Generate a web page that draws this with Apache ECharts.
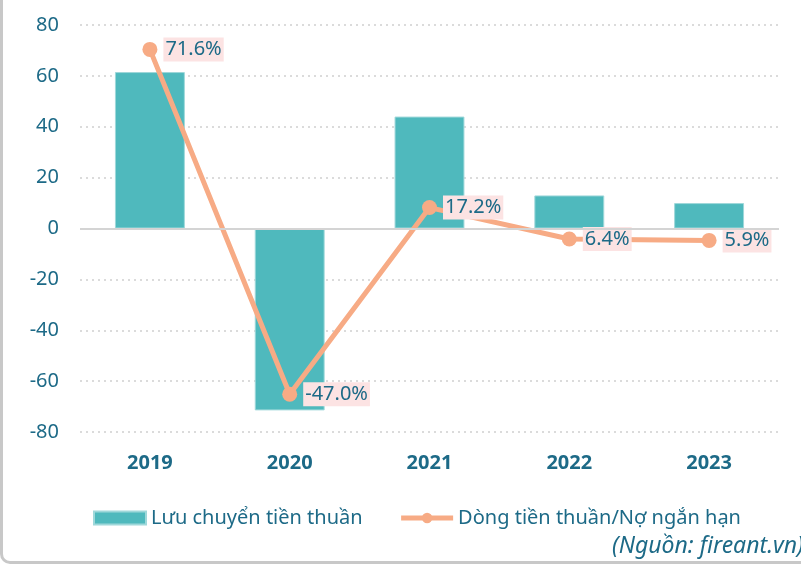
<!DOCTYPE html>
<html lang="vi">
<head>
<meta charset="UTF-8">
<title>Lưu chuyển tiền thuần</title>
<script src="https://cdn.jsdelivr.net/npm/echarts@6/dist/echarts.min.js"></script>
<style>
    html, body { margin: 0; padding: 0; background: #fff; }
    #frame {
        position: absolute; left: 0; top: -20px; width: 830px; height: 584px;
        border-left: 3px solid #c8c8c8; border-bottom: 3px solid #c8c8c8;
        border-bottom-left-radius: 10px; box-sizing: border-box;
    }
    #main { position: absolute; left: 0; top: 0; width: 801px; height: 566px; }
</style>
</head>
<body>
<div id="frame"></div>
<div id="main"></div>
<script type="text/javascript">
    // dữ liệu
    var years = ['2019', '2020', '2021', '2022', '2023'];
    var luuChuyen = [61.5, -71.5, 44, 13, 10];
    var tyLe = [71.6, -47.0, 17.2, 6.4, 5.9];

    var textColor = '#1d6a87';
    var font = 'Noto Sans';

    var myChart = echarts.init(document.getElementById('main'));
    var option = {
        animation: false,
        textStyle: { fontFamily: font },
        grid: { left: 80, right: 22, top: 25, bottom: 134 },
        legend: {
            top: 503,
            left: 88,
            itemGap: 36,
            itemWidth: 52,
            itemHeight: 13,
            textStyle: { color: textColor, fontSize: 20, fontFamily: font },
            data: [
                { name: 'Lưu chuyển tiền thuần', icon: 'rect' },
                {
                    name: 'Dòng tiền thuần/Nợ ngắn hạn',
                    lineStyle: { width: 5, color: '#f7ab85' },
                    itemStyle: { color: '#f7ab85' }
                }
            ]
        },
        xAxis: {
            type: 'category',
            data: years,
            axisLine: { show: false },
            axisTick: { show: false },
            axisLabel: { color: textColor, fontSize: 20, fontWeight: 'bold', margin: 21 }
        },
        yAxis: [
            {
                type: 'value',
                min: -80, max: 80, interval: 20,
                axisLine: { show: false },
                axisTick: { show: false },
                axisLabel: { color: textColor, fontSize: 20, margin: 21 },
                splitLine: { lineStyle: { color: '#cfcfcf', type: [2, 4], width: 1.5 } }
            },
            {
                type: 'value',
                min: -60, max: 80,
                show: false,
                splitLine: { show: false }
            }
        ],
        series: [
            {
                name: 'Lưu chuyển tiền thuần',
                type: 'bar',
                barWidth: '50%',
                data: luuChuyen,
                itemStyle: { color: '#4fb9bd', borderColor: '#9fd8da', borderWidth: 1 },
                markLine: {
                    silent: true,
                    symbol: 'none',
                    label: { show: false },
                    lineStyle: { color: '#d4d4d4', type: 'solid', width: 2 },
                    data: [{ yAxis: 0 }]
                }
            },
            {
                name: 'Dòng tiền thuần/Nợ ngắn hạn',
                type: 'line',
                yAxisIndex: 1,
                data: tyLe,
                symbol: 'circle',
                symbolSize: 15,
                color: '#f7ab85',
                lineStyle: { width: 5, color: '#f7ab85' },
                itemStyle: { color: '#f7ab85' },
                label: {
                    show: true,
                    position: 'right',
                    distance: 6,
                    color: textColor,
                    fontSize: 20,
                    backgroundColor: '#fce3e3',
                    padding: [3, 2, 1, 2],
                    formatter: function (p) { return p.value.toFixed(1) + '%'; }
                }
            }
        ],
        graphic: [
            {
                type: 'text',
                left: 612,
                top: 535,
                style: {
                    text: '(Nguồn: fireant.vn)',
                    fill: textColor,
                    font: 'italic 23px "Noto Sans"'
                }
            }
        ]
    };
    myChart.setOption(option);
</script>
</body>
</html>
